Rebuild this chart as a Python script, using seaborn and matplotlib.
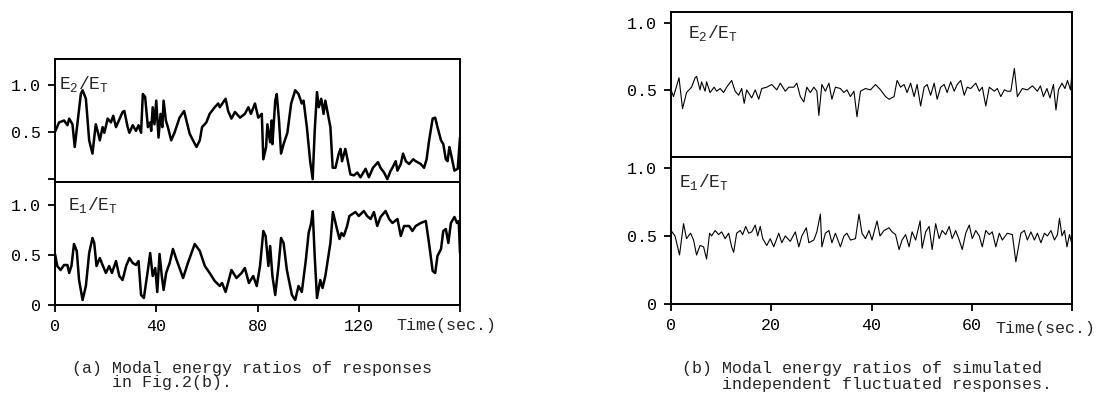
import matplotlib
matplotlib.use("Agg")
import matplotlib.pyplot as plt
import seaborn as sns

# (a) modal energy ratios of responses, 0-160 s
t_a2 = [0, 1.6, 3.6, 4.9, 5.6, 6.9, 7.8, 10.2, 10.9, 12.2, 13.5, 14.8, 16.1, 17.1, 17.7, 18.8,
        19.5, 20.8, 22.1, 23.0, 24.1, 26.7, 27.4, 28.7, 29.4, 30.7, 32.0, 33.0, 34.0, 34.7, 35.6,
        36.7, 37.6, 38.0, 38.6, 39.3, 40.0, 40.9, 41.7, 42.4, 42.9, 43.8, 44.6, 45.9, 47.2, 49.2,
        51.0, 51.9, 53.2, 54.9, 55.9, 57.2, 58.1, 59.8, 61.1, 63.1, 64.5, 65.1, 67.4, 68.4, 69.7,
        71.1, 73.1, 75.0, 76.4, 77.4, 79.0, 80.3, 81.7, 82.3, 83.4, 83.9, 85.0, 85.6, 85.9, 87.0,
        87.6, 88.5, 89.3, 90.3, 91.8, 93.3, 94.9, 96.2, 97.5, 98.2, 99.5, 100.8, 101.8, 102.6,
        103.5, 104.2, 105.2, 106.1, 106.8, 108.8, 109.7, 110.8, 112.1, 112.8, 113.4, 114.7, 115.7,
        116.7, 118.1, 119.4, 120.7, 122.7, 124.0, 125.6, 127.6, 128.6, 130.0, 131.3, 132.6, 133.3,
        134.6, 135.3, 136.6, 137.5, 138.6, 139.9, 141.5, 142.5, 144.5, 145.8, 146.8, 147.8, 149.2,
        150.2, 151.1, 152.5, 153.4, 154.4, 155.1, 155.8, 156.4, 157.8, 159.1, 160.0]
e2_a = [0.50, 0.60, 0.62, 0.57, 0.64, 0.58, 0.34, 0.90, 0.94, 0.85, 0.41, 0.27, 0.58, 0.48, 0.41,
        0.55, 0.49, 0.64, 0.60, 0.67, 0.55, 0.71, 0.72, 0.55, 0.49, 0.57, 0.51, 0.57, 0.49, 0.90,
        0.87, 0.55, 0.60, 0.51, 0.76, 0.58, 0.83, 0.44, 0.69, 0.55, 0.83, 0.62, 0.55, 0.41, 0.49,
        0.65, 0.72, 0.62, 0.48, 0.39, 0.34, 0.41, 0.55, 0.60, 0.69, 0.76, 0.80, 0.76, 0.85, 0.72,
        0.64, 0.71, 0.65, 0.69, 0.76, 0.69, 0.80, 0.65, 0.69, 0.21, 0.34, 0.58, 0.39, 0.62, 0.37,
        0.83, 0.90, 0.62, 0.27, 0.37, 0.49, 0.80, 0.94, 0.90, 0.80, 0.83, 0.55, 0.19, 0.00, 0.51,
        0.92, 0.76, 0.85, 0.69, 0.83, 0.55, 0.12, 0.12, 0.27, 0.32, 0.19, 0.32, 0.19, 0.05, 0.04,
        0.07, 0.02, 0.11, 0.02, 0.12, 0.18, 0.12, 0.07, 0.00, 0.09, 0.12, 0.19, 0.09, 0.16, 0.27,
        0.19, 0.16, 0.21, 0.19, 0.16, 0.12, 0.21, 0.41, 0.64, 0.65, 0.55, 0.41, 0.37, 0.21, 0.19,
        0.34, 0.27, 0.09, 0.11, 0.44]

t_a1 = [0, 0.9, 2.2, 3.6, 4.9, 5.6, 6.5, 7.5, 8.6, 9.5, 10.9, 12.2, 13.5, 14.8, 15.5, 16.4, 17.7,
        18.8, 20.1, 21.4, 22.5, 24.1, 25.4, 26.7, 28.1, 29.4, 30.7, 32.0, 33.0, 34.0, 35.1, 36.7,
        37.6, 38.6, 39.6, 40.4, 41.3, 42.2, 42.9, 43.9, 45.3, 46.6, 47.9, 50.6, 52.5, 55.2, 57.2,
        59.2, 61.1, 63.1, 65.1, 66.0, 67.4, 69.7, 71.7, 73.7, 75.0, 76.6, 78.3, 79.7, 81.0, 82.3,
        83.2, 84.3, 85.0, 85.9, 87.0, 88.3, 89.3, 90.3, 91.6, 93.6, 94.9, 96.2, 97.5, 99.1, 100.2,
        101.2, 101.8, 102.6, 103.5, 104.8, 105.7, 106.8, 108.8, 109.8, 111.4, 112.4, 113.2, 114.1,
        115.4, 116.3, 118.7, 120.0, 122.0, 123.3, 124.7, 126.0, 127.3, 128.6, 130.6, 132.0, 133.3,
        135.3, 136.6, 137.9, 139.9, 141.2, 142.5, 144.5, 146.5, 147.8, 149.2, 150.2, 151.1, 152.5,
        153.4, 154.4, 155.4, 156.4, 157.8, 158.8, 159.5, 160.0]
e1_a = [0.51, 0.39, 0.35, 0.40, 0.40, 0.32, 0.39, 0.61, 0.54, 0.25, 0.05, 0.19, 0.52, 0.67, 0.62,
        0.39, 0.47, 0.40, 0.32, 0.39, 0.32, 0.44, 0.29, 0.25, 0.39, 0.47, 0.42, 0.40, 0.44, 0.10,
        0.07, 0.35, 0.52, 0.29, 0.37, 0.13, 0.51, 0.29, 0.15, 0.32, 0.42, 0.56, 0.46, 0.27, 0.42,
        0.61, 0.54, 0.39, 0.32, 0.24, 0.19, 0.22, 0.13, 0.35, 0.27, 0.32, 0.37, 0.22, 0.29, 0.19,
        0.39, 0.74, 0.69, 0.39, 0.59, 0.29, 0.10, 0.39, 0.67, 0.62, 0.35, 0.10, 0.05, 0.19, 0.13,
        0.45, 0.72, 0.82, 0.94, 0.49, 0.07, 0.25, 0.17, 0.29, 0.62, 0.93, 0.76, 0.66, 0.72, 0.69,
        0.79, 0.89, 0.93, 0.89, 0.94, 0.89, 0.86, 0.93, 0.79, 0.88, 0.94, 0.86, 0.82, 0.86, 0.69,
        0.79, 0.79, 0.74, 0.79, 0.82, 0.84, 0.61, 0.34, 0.32, 0.49, 0.56, 0.74, 0.76, 0.62, 0.82,
        0.88, 0.82, 0.84, 0.52]

# (b) simulated independent fluctuated responses, 0-80 s
t_b2 = [0.0, 0.5, 1.6, 2.3, 3.1, 4.1, 4.8, 5.1, 5.8, 6.1, 6.8, 7.1, 7.8, 8.6, 9.1, 9.8, 10.5, 11.1,
        12.1, 12.8, 13.5, 14.1, 14.6, 15.1, 16.1, 16.8, 17.5, 18.1, 19.1, 20.1, 21.1, 21.8, 22.8,
        23.5, 24.5, 25.1, 25.8, 26.5, 27.1, 27.8, 28.5, 29.1, 29.5, 30.1, 30.8, 31.5, 32.1, 32.8,
        33.8, 34.5, 35.1, 35.8, 36.5, 37.1, 37.8, 38.8, 39.8, 40.8, 41.8, 42.8, 43.5, 44.5, 45.1,
        45.8, 46.5, 47.1, 47.8, 48.5, 49.1, 49.8, 50.5, 51.1, 51.8, 52.5, 53.1, 53.8, 54.5, 55.1,
        55.8, 56.5, 57.1, 57.8, 58.5, 59.1, 59.8, 60.8, 61.5, 62.1, 62.8, 63.5, 64.5, 65.1, 65.8,
        66.5, 67.1, 67.8, 68.5, 69.1, 70.1, 71.1, 72.1, 73.1, 73.7, 74.3, 75.0, 75.6, 76.3, 76.8,
        77.3, 78.0, 78.6, 79.1, 79.7, 80.0]
e2_b = [0.50, 0.45, 0.59, 0.36, 0.48, 0.52, 0.59, 0.60, 0.50, 0.56, 0.49, 0.56, 0.48, 0.52, 0.49,
        0.51, 0.48, 0.52, 0.57, 0.49, 0.46, 0.51, 0.40, 0.50, 0.44, 0.50, 0.43, 0.51, 0.52, 0.54,
        0.50, 0.55, 0.49, 0.52, 0.52, 0.55, 0.45, 0.41, 0.52, 0.48, 0.52, 0.49, 0.31, 0.54, 0.49,
        0.55, 0.43, 0.52, 0.51, 0.48, 0.50, 0.45, 0.49, 0.30, 0.49, 0.51, 0.50, 0.54, 0.50, 0.45,
        0.43, 0.45, 0.57, 0.52, 0.54, 0.48, 0.55, 0.45, 0.54, 0.38, 0.52, 0.54, 0.46, 0.55, 0.43,
        0.52, 0.54, 0.48, 0.56, 0.49, 0.54, 0.57, 0.46, 0.52, 0.51, 0.55, 0.49, 0.52, 0.38, 0.52,
        0.49, 0.51, 0.45, 0.50, 0.49, 0.49, 0.66, 0.45, 0.51, 0.50, 0.53, 0.49, 0.53, 0.45, 0.51,
        0.44, 0.54, 0.35, 0.50, 0.55, 0.51, 0.57, 0.50, 0.63]

t_b1 = [0.0, 0.8, 1.7, 2.5, 3.1, 3.9, 4.5, 5.1, 5.8, 6.5, 7.1, 7.7, 8.1, 8.8, 9.5, 10.1, 10.8, 11.5,
        12.1, 12.5, 13.1, 13.8, 14.3, 14.9, 15.5, 16.1, 16.8, 17.3, 17.8, 18.3, 19.1, 19.8, 20.5,
        21.5, 22.1, 22.8, 23.8, 24.8, 25.5, 26.1, 27.0, 27.5, 28.5, 29.1, 29.8, 30.1, 30.8, 31.5,
        32.1, 32.8, 33.8, 34.5, 35.1, 35.8, 36.8, 37.5, 38.1, 38.8, 39.5, 40.1, 41.1, 41.7, 42.5,
        43.5, 44.1, 44.8, 45.5, 46.1, 46.8, 47.5, 48.1, 48.8, 49.7, 50.1, 50.8, 51.5, 52.1, 52.8,
        53.5, 54.1, 54.8, 55.5, 56.1, 56.8, 57.5, 58.1, 58.8, 59.5, 60.1, 60.8, 61.5, 62.1, 62.8,
        63.5, 64.1, 64.8, 65.5, 66.1, 67.1, 68.1, 68.8, 69.8, 70.5, 71.1, 71.8, 72.5, 73.1, 73.8,
        74.5, 75.1, 75.8, 76.5, 77.1, 77.5, 78.0, 78.5, 79.0, 79.5, 80.0]
e1_b = [0.54, 0.50, 0.36, 0.59, 0.48, 0.52, 0.47, 0.36, 0.43, 0.42, 0.33, 0.52, 0.50, 0.54, 0.51,
        0.53, 0.48, 0.52, 0.42, 0.38, 0.52, 0.54, 0.51, 0.57, 0.52, 0.53, 0.58, 0.50, 0.57, 0.48,
        0.43, 0.48, 0.42, 0.52, 0.45, 0.50, 0.46, 0.53, 0.42, 0.50, 0.56, 0.45, 0.47, 0.53, 0.66,
        0.42, 0.52, 0.54, 0.45, 0.52, 0.42, 0.50, 0.52, 0.47, 0.48, 0.66, 0.52, 0.48, 0.54, 0.47,
        0.61, 0.50, 0.54, 0.56, 0.53, 0.51, 0.40, 0.47, 0.51, 0.42, 0.53, 0.47, 0.61, 0.41, 0.53,
        0.57, 0.40, 0.59, 0.48, 0.54, 0.51, 0.57, 0.48, 0.54, 0.47, 0.40, 0.52, 0.58, 0.48, 0.54,
        0.50, 0.42, 0.54, 0.51, 0.53, 0.42, 0.52, 0.47, 0.52, 0.51, 0.31, 0.52, 0.54, 0.47, 0.53,
        0.47, 0.52, 0.45, 0.52, 0.50, 0.54, 0.47, 0.51, 0.63, 0.50, 0.54, 0.42, 0.51, 0.44]

sns.set_style("ticks")
plt.rcParams['font.family'] = ['Liberation Mono', 'DejaVu Sans']
plt.rcParams['mathtext.fontset'] = 'custom'
plt.rcParams['mathtext.rm'] = 'Liberation Mono'
plt.rcParams['mathtext.it'] = 'Liberation Mono'
plt.rcParams['font.size'] = 12

W, H = 1118, 408
fig = plt.figure(figsize=(W / 100, H / 100), dpi=100)

def box(l, t, r, b):
    return [l / W, 1 - b / H, (r - l) / W, (b - t) / H]

ax_a2 = fig.add_axes(box(55, 59, 460, 182))
ax_a1 = fig.add_axes(box(55, 182, 460, 305))
ax_b2 = fig.add_axes(box(671, 12, 1072, 157))
ax_b1 = fig.add_axes(box(671, 157, 1072, 304))

sns.lineplot(x=t_a2, y=e2_a, ax=ax_a2, color='black', linewidth=1.8)
sns.lineplot(x=t_a1, y=e1_a, ax=ax_a1, color='black', linewidth=1.8)
sns.lineplot(x=t_b2, y=e2_b, ax=ax_b2, color='black', linewidth=0.8)
sns.lineplot(x=t_b1, y=e1_b, ax=ax_b1, color='black', linewidth=0.8)

for ax in [ax_a2, ax_a1, ax_b2, ax_b1]:
    for sp in ax.spines.values():
        sp.set_visible(True)
        sp.set_linewidth(1.4)
        sp.set_color('black')
    ax.tick_params(direction='out', length=5, width=1.3, pad=5, labelsize=12, colors='black')
    ax.set_xlabel('')
    ax.set_ylabel('')

ax_a2.set_xlim(0, 160)
ax_a1.set_xlim(0, 160)
ax_b2.set_xlim(0, 80)
ax_b1.set_xlim(0, 80)
ax_a2.set_ylim(-0.03, 1.27)
ax_a1.set_ylim(0, 1.23)
ax_b2.set_ylim(0, 1.08)
ax_b1.set_ylim(0, 1.08)

ax_a2.set_yticks([0, 0.5, 1.0], ['', '0.5', '1.0'])
ax_a1.set_yticks([0, 0.5, 1.0], ['0', '0.5', '1.0'])
ax_b2.set_yticks([0.5, 1.0], ['0.5', '1.0'])
ax_b1.set_yticks([0, 0.5, 1.0], ['0', '0.5', '1.0'])

ax_a2.tick_params(axis='x', bottom=False, labelbottom=False)
ax_b2.tick_params(axis='x', bottom=False, labelbottom=False)
ax_a1.set_xticks([0, 40, 80, 120, 160], ['0', '40', '80', '120', ''])
ax_b1.set_xticks([0, 20, 40, 60, 80], ['0', '20', '40', '60', ''])

ax_a1.text(0.842, -0.165, 'Time(sec.)', transform=ax_a1.transAxes, ha='left', va='center', fontsize=12)
ax_b1.text(0.81, -0.165, 'Time(sec.)', transform=ax_b1.transAxes, ha='left', va='center', fontsize=12)

ax_a2.text(1.5, 0.95, r'$\mathrm{E_2/E_T}$', fontsize=13, va='baseline')
ax_a1.text(5.0, 0.95, r'$\mathrm{E_1/E_T}$', fontsize=13, va='baseline')
ax_b2.text(3.4, 0.885, r'$\mathrm{E_2/E_T}$', fontsize=13, va='baseline')
ax_b1.text(1.6, 0.86, r'$\mathrm{E_1/E_T}$', fontsize=13, va='baseline')

fig.text(72 / W, 1 - 368 / H, '(a) Modal energy ratios of responses', va='center', fontsize=12)
fig.text(72 / W, 1 - 383 / H, '    in Fig.2(b).', va='center', fontsize=12)
fig.text(682 / W, 1 - 369 / H, '(b) Modal energy ratios of simulated', va='center', fontsize=12)
fig.text(682 / W, 1 - 384 / H, '    independent fluctuated responses.', va='center', fontsize=12)

fig.savefig('out.png', dpi=100)
